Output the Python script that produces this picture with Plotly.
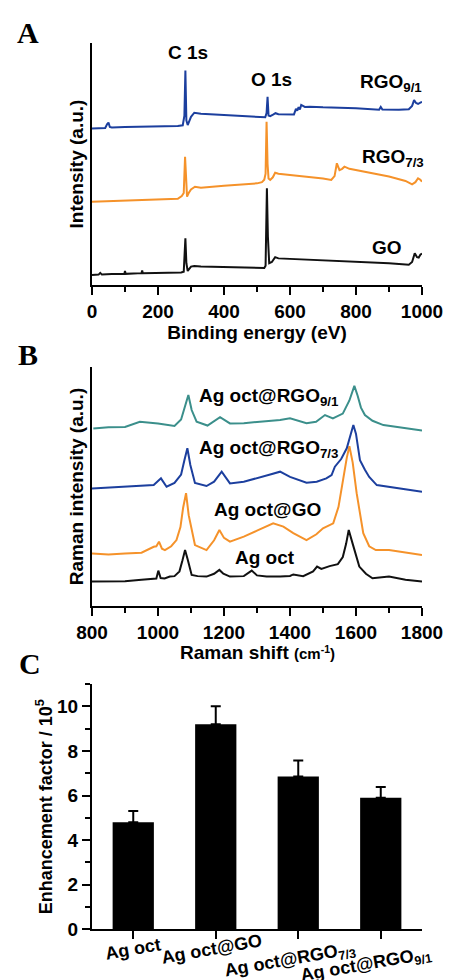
import plotly.graph_objects as go

# ---------------- Panel A : XPS survey ----------------
xps_go_x = [0, 20, 25, 30, 60, 98, 100, 102, 150, 152, 154, 200, 270, 278, 280, 283, 286, 290, 300, 310, 330,
            400, 450, 500, 522, 526, 530, 533, 537, 545, 555, 565, 600, 700, 800, 900, 960, 970, 978, 985,
            990, 995, 1000]
xps_go_y = [4.1, 4.3, 5.0, 4.3, 4.5, 4.6, 5.8, 4.6, 4.9, 6.0, 4.9, 5.0, 5.2, 5.5, 12, 19.3, 9, 5.8, 7.6, 7.8, 7.6,
            7.3, 7.2, 7.0, 7.0, 8, 40.0, 20, 9, 9.5, 11.5, 11, 10.8, 10.3, 9.6, 9.0, 8.4, 9.5, 13.1, 11.5,
            11.3, 12.5, 13]

xps_rgo73_x = [0, 50, 100, 200, 260, 272, 278, 282, 285, 288, 293, 300, 312, 330, 400, 500, 515, 522, 526,
               529, 532, 535, 540, 548, 555, 565, 600, 650, 700, 725, 735, 742, 750, 758, 765, 780, 850,
               900, 950, 970, 980, 988, 995, 1000]
xps_rgo73_y = [34.4, 34.6, 34.8, 35.2, 35.6, 36.8, 38, 53.0, 40, 36.5, 38, 39.5, 40.6, 40.2, 41.0, 42.0,
               42.5, 43.5, 46, 67.5, 50, 44, 43.4, 44.5, 46.4, 46.0, 45.5, 44.8, 44.0, 43.4, 45, 50.3, 47.5,
               48.0, 48.9, 48.0, 46.2, 44.8, 43.0, 41.6, 42.5, 44.1, 43.5, 42.7]

xps_rgo91_x = [0, 40, 46, 50, 54, 60, 100, 150, 200, 260, 275, 280, 283, 286, 290, 300, 310, 330, 400, 500,
               525, 529, 532, 535, 540, 550, 556, 565, 600, 612, 618, 622, 626, 630, 634, 645, 660, 700, 800,
               870, 875, 880, 930, 960, 970, 976, 982, 988, 995, 1000]
xps_rgo91_y = [64.7, 64.9, 66.5, 67.1, 65.3, 65.1, 65.3, 65.4, 65.5, 65.7, 66.0, 70, 88.6, 68, 66.1, 69.5,
               71.2, 70.8, 70.2, 69.6, 69.3, 71, 77.8, 70, 69.8, 70.5, 71.0, 70.6, 70.5, 70.5, 72.8, 72.0,
               73.5, 72.5, 74.4, 73.6, 73.7, 73.4, 73.0, 72.4, 73.6, 72.5, 72.4, 72.6, 74, 76.4, 75.2, 74.8,
               75.4, 75.7]

# ---------------- Panel B : Raman spectra ----------------
ram_ag_x = [800, 850, 900, 950, 980, 995, 1001, 1008, 1020, 1036, 1050, 1065, 1074, 1082, 1090, 1102, 1120,
            1147, 1170, 1186, 1198, 1218, 1260, 1284, 1300, 1329, 1370, 1400, 1410, 1440, 1470, 1482, 1495,
            1520, 1545, 1560, 1570, 1578, 1590, 1610, 1630, 1650, 1700, 1750, 1800]
ram_ag_y = [10.2, 10.2, 10.4, 11.0, 11.2, 11.5, 14.8, 11.7, 11.5, 12.3, 12.5, 14.5, 19.0, 23.4, 19.5, 13.0,
            12.5, 12.3, 13.5, 15.1, 13.5, 12.3, 12.5, 14.8, 12.8, 12.3, 12.3, 12.6, 13.2, 12.5, 14.5, 16.5,
            15.5, 16.7, 17.5, 20.5, 26, 31.8, 26, 16.5, 13.5, 11.6, 12.3, 11.0, 10.2]

ram_go_x = [800, 850, 900, 950, 987, 995, 1003, 1012, 1021, 1040, 1056, 1068, 1076, 1085, 1093, 1112, 1147,
            1170, 1186, 1200, 1218, 1240, 1260, 1300, 1330, 1349, 1380, 1410, 1450, 1480, 1500, 1531, 1547,
            1561, 1572, 1580, 1590, 1602, 1622, 1640, 1660, 1700, 1750, 1800]
ram_go_y = [22.0, 21.5, 22.0, 22.3, 24.8, 25.0, 26.9, 24.0, 23.4, 25.0, 27.6, 33, 41, 47.2, 38, 25.5, 23.4,
            27.5, 31.8, 28.5, 26.9, 28.0, 29.0, 31.5, 33.5, 34.6, 33.2, 30.5, 27.6, 30.0, 32.5, 34.6, 41.5,
            54.0, 62.0, 66.9, 60.0, 47.2, 30.5, 25.0, 23.4, 23.4, 22.3, 21.3]

ram_r73_x = [800, 850, 900, 950, 987, 1009, 1026, 1050, 1070, 1080, 1089, 1098, 1112, 1147, 1170, 1193,
             1218, 1260, 1300, 1340, 1370, 1400, 1450, 1481, 1510, 1526, 1536, 1555, 1572, 1585, 1592,
             1600, 1612, 1627, 1640, 1663, 1700, 1750, 1800]
ram_r73_y = [49.2, 49.6, 50.0, 50.6, 50.6, 53.4, 49.9, 51.5, 55, 61, 66.0, 59, 51.5, 50.2, 52.0, 56.2, 51.3,
             52.0, 53.4, 55.0, 56.2, 54.0, 51.6, 52.0, 53.4, 54.8, 58.3, 61.5, 66.0, 72.5, 75.7, 72, 61.0,
             57.0, 54.0, 50.6, 49.9, 48.8, 47.8]

ram_r91_x = [804, 850, 900, 945, 1000, 1050, 1070, 1080, 1092, 1102, 1117, 1150, 1188, 1218, 1260, 1300,
             1370, 1400, 1450, 1479, 1506, 1530, 1560, 1580, 1595, 1605, 1615, 1627, 1650, 1683, 1720, 1760,
             1800]
ram_r91_y = [74.3, 74.8, 74.9, 77.1, 76.4, 75.3, 78, 83, 88.3, 82, 77.1, 75.5, 79.0, 76.4, 76.5, 77.0, 77.8,
             78.5, 76.5, 77.1, 79.9, 78.5, 80.5, 86, 92.1, 88, 83, 79.9, 77.5, 75.7, 75.0, 74.0, 73.4]

# ---------------- Panel C : enhancement factors ----------------
ef_categories = ["Ag oct", "Ag oct@GO", "Ag oct@RGO<sub>7/3</sub>", "Ag oct@RGO<sub>9/1</sub>"]
ef_values = [4.8, 9.2, 6.85, 5.9]
ef_errors = [0.5, 0.8, 0.72, 0.48]

BLACK = "#111111"
ORANGE = "#f5922a"
BLUE = "#1c3f9e"
TEAL = "#3b8f8b"
SANS = "Liberation Sans, Arial, sans-serif"
SERIF = "Liberation Serif, Times New Roman, serif"

fig = go.Figure()


def line(x, y, color, xa, ya, name):
    fig.add_trace(go.Scatter(x=x, y=y, mode="lines", name=name,
                             line=dict(color=color, width=2),
                             xaxis=xa, yaxis=ya, showlegend=False))


line(xps_go_x, xps_go_y, BLACK, "x", "y", "GO")
line(xps_rgo73_x, xps_rgo73_y, ORANGE, "x", "y", "RGO7/3")
line(xps_rgo91_x, xps_rgo91_y, BLUE, "x", "y", "RGO9/1")

line(ram_ag_x, ram_ag_y, BLACK, "x2", "y2", "Ag oct")
line(ram_go_x, ram_go_y, ORANGE, "x2", "y2", "Ag oct@GO")
line(ram_r73_x, ram_r73_y, BLUE, "x2", "y2", "Ag oct@RGO7/3")
line(ram_r91_x, ram_r91_y, TEAL, "x2", "y2", "Ag oct@RGO9/1")

fig.add_trace(go.Bar(x=ef_categories, y=ef_values, width=0.5, xaxis="x3", yaxis="y3",
                     marker=dict(color="black", line=dict(width=0)), showlegend=False,
                     error_y=dict(type="data", symmetric=False, array=ef_errors,
                                  arrayminus=[0] * len(ef_errors), color="black",
                                  thickness=2, width=5)))

# page body has an 8px margin: lay out in window pixels and convert
OFF = 8
W, H = 455 - OFF, 980 - OFF


def px(x):
    return (x - OFF) / W


def py(y):
    return 1 - (y - OFF) / H


XDOM = [px(92), px(422)]
tickfont = dict(family=SANS, size=19, color="black", weight="bold")
titlefont = dict(family=SANS, size=19, color="black", weight="bold")

common_x = dict(domain=XDOM, showgrid=False, zeroline=False, showline=True, linecolor="black",
                linewidth=2, ticks="outside", ticklen=8, tickwidth=2, tickcolor="black",
                tickfont=tickfont, automargin=False)
common_y = dict(showgrid=False, zeroline=False, showline=True, linecolor="black", linewidth=2,
                automargin=False)

fig.update_layout(
    template="none",
    width=W, height=H, margin=dict(l=0, r=0, t=0, b=0, autoexpand=False),
    paper_bgcolor="white", plot_bgcolor="white",
    xaxis=dict(common_x, anchor="y", range=[0, 1000], dtick=200,
               minor=dict(dtick=100, ticks="outside", ticklen=5, tickwidth=2, tickcolor="black"),
               title=dict(text="Binding energy (eV)", font=titlefont, standoff=0)),
    yaxis=dict(common_y, anchor="x", domain=[py(285), py(43)], range=[0, 100],
               showticklabels=False, ticks="",
               title=dict(text="Intensity (a.u.)", font=titlefont, standoff=1)),
    xaxis2=dict(common_x, anchor="y2", range=[800, 1800], dtick=200,
                minor=dict(dtick=100, ticks="outside", ticklen=5, tickwidth=2, tickcolor="black")),
    yaxis2=dict(common_y, anchor="x2", domain=[py(606), py(367)], range=[0, 100],
                showticklabels=False, ticks="",
                title=dict(text="Raman intensity (a.u.)", font=titlefont, standoff=1)),
    xaxis3=dict(common_x, anchor="y3", range=[-0.5, 3.5], showticklabels=False, type="category"),
    yaxis3=dict(common_y, anchor="x3", domain=[py(929.3), py(684)], range=[0, 11],
                dtick=2, ticks="outside", ticklen=8, tickwidth=2, tickcolor="black", tickfont=tickfont,
                minor=dict(dtick=1, ticks="outside", ticklen=5, tickwidth=2, tickcolor="black"),
                title=dict(text="Enhancement factor / 10<sup>5</sup>",
                           font=dict(titlefont, size=18), standoff=0)),
)

annfont = dict(family=SANS, size=19, color="black", weight="bold")
anns = []
# panel letters
for letter, lx, ly in [("A", 27.5, 33), ("B", 27.5, 354), ("C", 30, 663)]:
    anns.append(dict(text=letter, xref="paper", yref="paper", x=px(lx), y=py(ly),
                     xanchor="center", yanchor="middle", showarrow=False,
                     font=dict(family=SERIF, size=30, color="black", weight="bold")))
# Raman x-axis title (placed as annotation for precise vertical position)
anns.append(dict(text="Raman shift <span style='font-size:15px'>(cm<sup>-1</sup>)</span>",
                 xref="x2 domain", yref="paper", x=0.5, y=py(652), xanchor="center",
                 yanchor="middle", showarrow=False, font=titlefont))
# panel A labels
for txt, x, y, xa in [("C 1s", 291, 95.9, "center"), ("O 1s", 545, 85.1, "center"),
                      ("RGO<sub>9/1</sub>", 806, 83.5, "left"), ("RGO<sub>7/3</sub>", 812, 52.5, "left"),
                      ("GO", 842, 15.7, "left")]:
    anns.append(dict(text=txt, xref="x", yref="y", x=x, y=y, xanchor=xa, yanchor="middle",
                     showarrow=False, font=annfont))
# panel B labels
for txt, x, y in [("Ag oct@RGO<sub>9/1</sub>", 1118, 87.4), ("Ag oct@RGO<sub>7/3</sub>", 1118, 65.6),
                  ("Ag oct@GO", 1164, 40.2), ("Ag oct", 1227, 20.1)]:
    anns.append(dict(text=txt, xref="x2", yref="y2", x=x, y=y, xanchor="left", yanchor="middle",
                     showarrow=False, font=annfont))
# panel C category labels (tilted)
for cat, dx, dy in zip(ef_categories, [0, -4, -8, -15], [-20, -20, -31, -36]):
    anns.append(dict(text=cat, xref="x3", yref="y3", x=cat, y=0, xshift=dx, yshift=dy,
                     xanchor="center", yanchor="middle", textangle=-10, showarrow=False,
                     font=dict(annfont, size=18)))
fig.update_layout(annotations=anns)

fig.write_html("out.html")
